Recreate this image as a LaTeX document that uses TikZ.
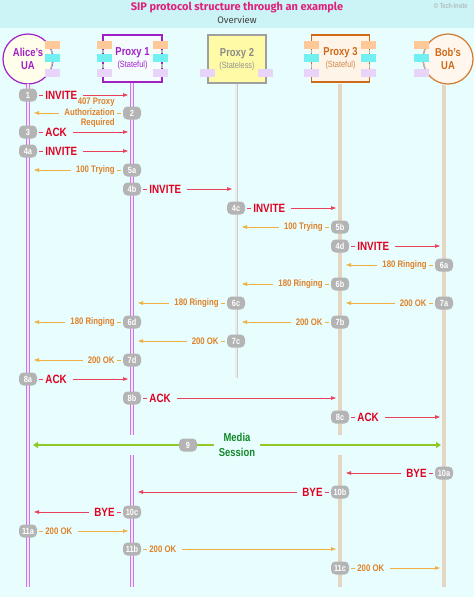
\documentclass[tikz,border=0pt]{standalone}
\usepackage{fontspec}
\setmainfont{Liberation Sans}[FakeStretch=0.82]
\newfontfamily\titlefont{Fira Sans}
\usetikzlibrary{arrows.meta,calc}
\definecolor{bgc}{HTML}{E8FEFE}
\definecolor{bandc}{HTML}{CCF4F6}
\definecolor{titlec}{HTML}{E0207A}
\definecolor{purp}{HTML}{A020C8}
\definecolor{purpl}{HTML}{C878E8}
\definecolor{purpfill}{HTML}{F6E6FC}
\definecolor{orgc}{HTML}{D06A18}
\definecolor{orgl}{HTML}{D08848}
\definecolor{reqtxt}{HTML}{E00020}
\definecolor{reqln}{HTML}{E84058}
\definecolor{rsptxt}{HTML}{E08028}
\definecolor{rspln}{HTML}{F0B040}
\definecolor{badgec}{HTML}{B4B4B4}
\definecolor{greenln}{HTML}{90C828}
\definecolor{greentxt}{HTML}{108828}
\definecolor{peach}{HTML}{FFC898}
\definecolor{cyanr}{HTML}{70F0F0}
\definecolor{lav}{HTML}{E8D4F8}
\definecolor{tanc}{HTML}{E4D6C2}
\definecolor{grayt}{HTML}{8A8A8A}
\tikzset{
  badge/.style={rounded corners=4.5pt, fill=badgec, text=white,
    font=\bfseries\fontsize{9}{10}\selectfont, minimum width=18pt,
    minimum height=13pt, inner xsep=1.5pt, inner ysep=0pt},
  reqlab/.style={font=\bfseries\fontsize{12}{13}\selectfont, text=reqtxt, inner sep=0pt},
  rsplab/.style={font=\bfseries\fontsize{9.5}{10.5}\selectfont, text=rsptxt, inner sep=0pt, align=right},
  reqline/.style={draw=reqln, line width=0.7pt},
  rspline/.style={draw=rspln, line width=0.7pt},
  tip/.style={-{Triangle[length=5pt,width=3.5pt]}},
  lifeP/.style={draw=purpl, line width=0.6pt, double=purpfill, double distance=2pt},
  lifeG/.style={draw=gray!40, line width=0.5pt, double=gray!15, double distance=2pt},
  lifeT/.style={draw=tanc, line width=4pt},
  namefont/.style={font=\bfseries\fontsize{11.5}{13}\selectfont},
  edgetick/.style={draw=gray!55, line width=1.3pt},
}
\newcommand\sipR[6]{%
  \node[badge] (b#1) at (#3,#2) {#1};
  \node[#6lab,anchor=west] (l#1) at ([xshift=8pt]b#1.east) {#5};
  \coordinate (e#1) at (#4-4,#2);
  \draw[#6line] ([xshift=2pt]b#1.east) -- ([xshift=-2pt]l#1.west);
  \draw[#6line,tip] ([xshift=6pt]l#1.east) -- (e#1);}
\newcommand\sipL[6]{%
  \node[badge] (b#1) at (#3,#2) {#1};
  \node[#6lab,anchor=east] (l#1) at ([xshift=-8pt]b#1.west) {#5};
  \coordinate (e#1) at (#4+6,#2);
  \draw[#6line] ([xshift=-2pt]b#1.west) -- ([xshift=2pt]l#1.east);
  \draw[#6line,tip] ([xshift=-5pt]l#1.west) -- (e#1);}
\begin{document}
\begin{tikzpicture}[x=1pt,y=-1pt]
\useasboundingbox (0,0) rectangle (474,597);
\fill[bgc] (0,0) rectangle (474,597);
\fill[bandc] (0,0) rectangle (474,28);
\node[font=\titlefont\bfseries\fontsize{11}{12}\selectfont, text=titlec] (title) at (237,7.5) {SIP protocol structure through an example};
\node[font=\titlefont\fontsize{9.5}{11}\selectfont, text=black!75] (overview) at (237,20) {Overview};
\node[anchor=east, font=\fontsize{7}{8}\selectfont, text=gray!70] (copy) at (471,6) {© Tech-Invite};

% Alice
\node[circle, draw=purp, line width=1.2pt, fill=yellow!8, minimum size=50pt, inner sep=0pt,
  namefont, text=purp, align=center] (alice) at (28,59) {Alice's\\UA};
\fill[peach] (45,41) rectangle (60,49);
\fill[cyanr] (45,54) rectangle (60,62);
\fill[lav] (45,69) rectangle (60,77);
\draw[edgetick] (51.3,49.5) -- (52.4,53.5);
\draw[edgetick] (52.4,62.5) -- (51.0,68.5);

% Proxy 1
\node[draw=purp, line width=1.2pt, fill=cyan!4, minimum width=59pt, minimum height=47pt,
  inner sep=0pt, align=center, text=purp] (p1) at (132.5,58.5)
  {{\bfseries\fontsize{11.5}{13}\selectfont Proxy 1}\\[0pt]{\fontsize{9}{10}\selectfont (Stateful)}};
\foreach \xx in {97,153}{
  \fill[peach] (\xx,41) rectangle (\xx+15,49);
  \fill[cyanr] (\xx,54) rectangle (\xx+15,62);
  \fill[lav] (\xx,69) rectangle (\xx+15,77);}
\foreach \xx in {103,162}{
  \draw[edgetick] (\xx,50) -- (\xx,53);
  \draw[edgetick] (\xx,63.5) -- (\xx,68);}

% Proxy 2
\node[draw=gray!75, line width=1.2pt, fill=yellow!35, minimum width=58pt, minimum height=48pt,
  inner sep=0pt, align=center, text=grayt] (p2) at (237,59)
  {{\bfseries\fontsize{11.5}{13}\selectfont Proxy 2}\\[0pt]{\fontsize{9}{10}\selectfont\color{gray!85} (Stateless)}};
\fill[lav] (200,69) rectangle (215,77);
\fill[lav] (258,69) rectangle (273,77);

% Proxy 3
\node[draw=orgc, line width=1.2pt, fill=orange!9, minimum width=58pt, minimum height=47pt,
  inner sep=0pt, align=center, text=orgc] (p3) at (340.5,58.5)
  {{\bfseries\fontsize{11.5}{13}\selectfont Proxy 3}\\[0pt]{\fontsize{9}{10}\selectfont\color{orgl} (Stateful)}};
\foreach \xx in {304,361}{
  \fill[peach] (\xx,41) rectangle (\xx+15,49);
  \fill[cyanr] (\xx,54) rectangle (\xx+15,62);
  \fill[lav] (\xx,69) rectangle (\xx+15,77);}
\foreach \xx in {311.5,369.5}{
  \draw[edgetick] (\xx,50) -- (\xx,53);
  \draw[edgetick] (\xx,63.5) -- (\xx,68);}

% Bob
\node[circle, draw=orgc!90, line width=1.2pt, fill=orange!7, minimum size=50pt, inner sep=0pt,
  namefont, text=orgc, align=center] (bob) at (448,59) {Bob's\\UA};
\fill[peach] (414,41) rectangle (429,49);
\fill[cyanr] (414,54) rectangle (429,62);
\fill[lav] (414,69) rectangle (429,77);
\draw[edgetick] (424.6,49.5) -- (423.5,53.5);
\draw[edgetick] (423.5,62.5) -- (424.9,68.5);

% lifelines
\coordinate (aEnd) at (28,587);
\coordinate (p1A) at (132,435); \coordinate (p1B) at (132,455); \coordinate (p1End) at (132,587);
\coordinate (p2End) at (236,378);
\coordinate (p3A) at (340,435); \coordinate (p3B) at (340,455); \coordinate (p3End) at (340,587);
\coordinate (bEnd) at (444,587);
\draw[lifeP] (28,84) -- (aEnd);
\draw[lifeP] (132,83) -- (p1A);
\draw[lifeP] (p1B) -- (p1End);
\draw[lifeG] (236,84) -- (p2End);
\draw[lifeT] (340,84) -- (p3A);
\draw[lifeT] (p3B) -- (p3End);
\draw[lifeT] (444,85) -- (bEnd);

% messages
\sipR{1}{95}{28}{132}{INVITE}{req}
\sipL{2}{113}{132}{28}{407 Proxy\\Authorization\\Required}{rsp}
\sipR{3}{132}{28}{132}{ACK}{req}
\sipR{4a}{151}{28}{132}{INVITE}{req}
\sipL{5a}{170}{132}{28}{100 Trying}{rsp}
\sipR{4b}{189}{132}{236}{INVITE}{req}
\sipR{4c}{208}{236}{340}{INVITE}{req}
\sipL{5b}{227}{340}{236}{100 Trying}{rsp}
\sipR{4d}{246}{340}{444}{INVITE}{req}
\sipL{6a}{265}{444}{340}{180 Ringing}{rsp}
\sipL{6b}{284}{340}{236}{180 Ringing}{rsp}
\sipL{6c}{303}{236}{132}{180 Ringing}{rsp}
\sipL{7a}{303}{444}{340}{200 OK}{rsp}
\sipL{6d}{322}{132}{28}{180 Ringing}{rsp}
\sipL{7b}{322}{340}{236}{200 OK}{rsp}
\sipL{7c}{341}{236}{132}{200 OK}{rsp}
\sipL{7d}{360}{132}{28}{200 OK}{rsp}
\sipR{8a}{379}{28}{132}{ACK}{req}
\sipR{8b}{398}{132}{340}{ACK}{req}
\sipR{8c}{417}{340}{444}{ACK}{req}

% media session
\node[badge] (b9) at (188,445) {9};
\node[font=\bfseries\fontsize{11.5}{14.5}\selectfont, text=greentxt, align=center, inner sep=0pt] (l9) at (237,445) {Media\\Session};
\coordinate (m9a) at (33,445);
\coordinate (m9b) at (441,445);
\draw[greenln, line width=2.4pt, {Triangle[length=5pt,width=6pt]}-] (m9a) -- (b9.west);
\draw[greenln, line width=2.4pt] (b9.east) -- ([xshift=-5pt]l9.west);
\draw[greenln, line width=2.4pt, -{Triangle[length=5pt,width=6pt]}] ([xshift=5pt]l9.east) -- (m9b);

\sipL{10a}{473}{444}{340}{BYE}{req}
\sipL{10b}{492}{340}{132}{BYE}{req}
\sipL{10c}{512}{132}{28}{BYE}{req}
\sipR{11a}{531}{28}{132}{200 OK}{rsp}
\sipR{11b}{549}{132}{340}{200 OK}{rsp}
\sipR{11c}{568}{340}{444}{200 OK}{rsp}
\end{tikzpicture}
\end{document}
